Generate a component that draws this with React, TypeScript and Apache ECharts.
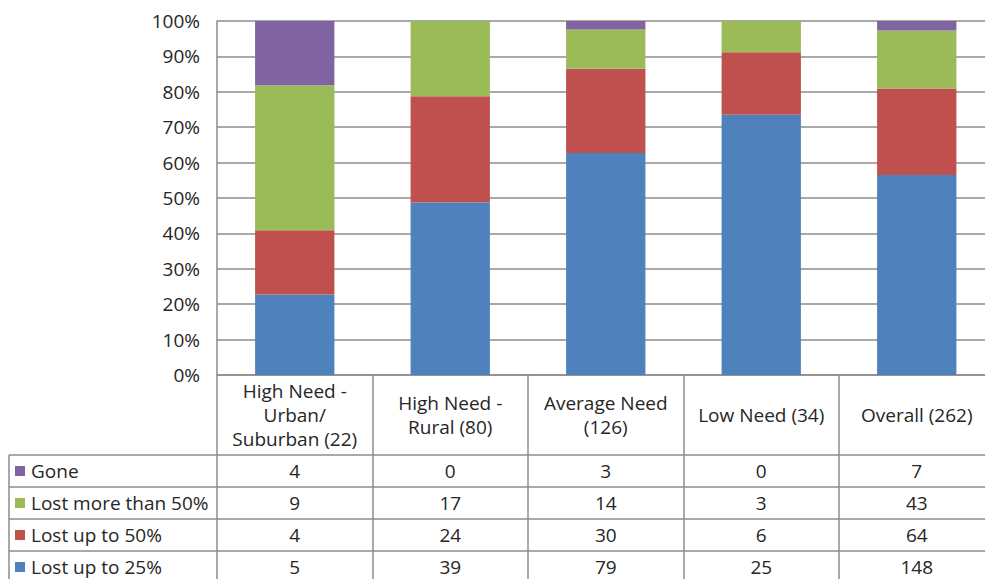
import React, { useEffect, useRef } from "react";
import * as echarts from "echarts";

const categories = [
  "High Need -\nUrban/\nSuburban (22)",
  "High Need -\nRural (80)",
  "Average Need\n(126)",
  "Low Need (34)",
  "Overall (262)",
];
const seriesNames = ["Lost up to 25%", "Lost up to 50%", "Lost more than 50%", "Gone"];
const lostUpTo25 = [5, 39, 79, 25, 148];
const lostUpTo50 = [4, 24, 30, 6, 64];
const lostMoreThan50 = [9, 17, 14, 3, 43];
const gone = [4, 0, 3, 0, 7];
const yTicks = [0, 10, 20, 30, 40, 50, 60, 70, 80, 90, 100];

const colors = ["#4F81BD", "#C0504D", "#9BBB59", "#8064A2"];
const FONT = "'Open Sans'";
const FS = 19;
const GRID_LEFT = 217;
const GRID_TOP = 21;
const GRID_W = 777.5;
const GRID_H = 354;
const LINE = "#8c8c8c";
const TEXT = "#262626";

export default function App() {
  const ref = useRef<HTMLDivElement>(null);
  useEffect(() => {
    if (!ref.current) return;
    const chart = echarts.init(ref.current, undefined, { renderer: "svg" });
    const counts = [lostUpTo25, lostUpTo50, lostMoreThan50, gone];
    const totals = categories.map((_, i) => counts.reduce((s, a) => s + a[i], 0));
    const colW = GRID_W / categories.length;
    const bottom = GRID_TOP + GRID_H;
    const headerH = 80;
    const rowH = 32;
    const tableRows = [3, 2, 1, 0];
    const graphics: any[] = [];
    for (let r = 0; r <= tableRows.length; r++) {
      const y = bottom + headerH + r * rowH;
      graphics.push({
        type: "line",
        shape: { x1: 9, y1: y, x2: GRID_LEFT + GRID_W, y2: y },
        style: { stroke: LINE, lineWidth: 1.5 },
      });
    }
    graphics.push({
      type: "line",
      shape: { x1: 9, y1: bottom + headerH, x2: 9, y2: bottom + headerH + rowH * 4 },
      style: { stroke: LINE, lineWidth: 1.5 },
    });
    tableRows.forEach((si, r) => {
      const yc = bottom + headerH + r * rowH + rowH / 2;
      graphics.push({
        type: "rect",
        shape: { x: 15, y: yc - 5, width: 10, height: 10 },
        style: { fill: colors[si] },
      });
      graphics.push({
        type: "text",
        x: 31,
        y: yc,
        style: {
          text: seriesNames[si],
          font: `${FS}px ${FONT}`,
          fill: TEXT,
          textVerticalAlign: "middle",
          textAlign: "left",
        },
      });
      counts[si].forEach((v, i) => {
        graphics.push({
          type: "text",
          x: GRID_LEFT + colW * (i + 0.5),
          y: yc,
          style: {
            text: String(v),
            font: `${FS}px ${FONT}`,
            fill: TEXT,
            textVerticalAlign: "middle",
            textAlign: "center",
          },
        });
      });
    });

    chart.setOption({
      animation: false,
      grid: { left: GRID_LEFT, top: GRID_TOP, width: GRID_W, height: GRID_H },
      xAxis: {
        type: "category",
        data: categories,
        axisLine: { lineStyle: { color: LINE, width: 1.5 } },
        axisTick: { show: true, length: headerH + rowH * 4, lineStyle: { color: LINE, width: 1.5 } },
        axisLabel: {
          margin: 40,
          verticalAlign: "middle",
          fontFamily: FONT,
          fontSize: FS,
          lineHeight: 24,
          color: TEXT,
          align: "center",
          interval: 0,
        },
      },
      yAxis: {
        type: "value",
        min: 0,
        max: 100,
        interval: 10,
        axisLine: { show: true, lineStyle: { color: LINE, width: 1.5 } },
        axisTick: { show: false },
        splitLine: { lineStyle: { color: LINE, width: 1.5 } },
        axisLabel: {
          formatter: (v: number) => (yTicks.includes(v) ? `${v}%` : ""),
          fontFamily: FONT,
          fontSize: FS,
          color: TEXT,
          margin: 17,
        },
      },
      series: counts.map((arr, si) => ({
        name: seriesNames[si],
        type: "bar",
        stack: "total",
        barWidth: "51%",
        itemStyle: { color: colors[si] },
        data: arr.map((v, i) => (v / totals[i]) * 100),
      })),
      graphic: graphics,
    });
    return () => chart.dispose();
  }, []);
  return (
    <div style={{ position: "absolute", left: 0, top: 0, width: 985, height: 579, overflow: "hidden" }}>
      <div ref={ref} style={{ width: 1010, height: 600 }} />
    </div>
  );
}
